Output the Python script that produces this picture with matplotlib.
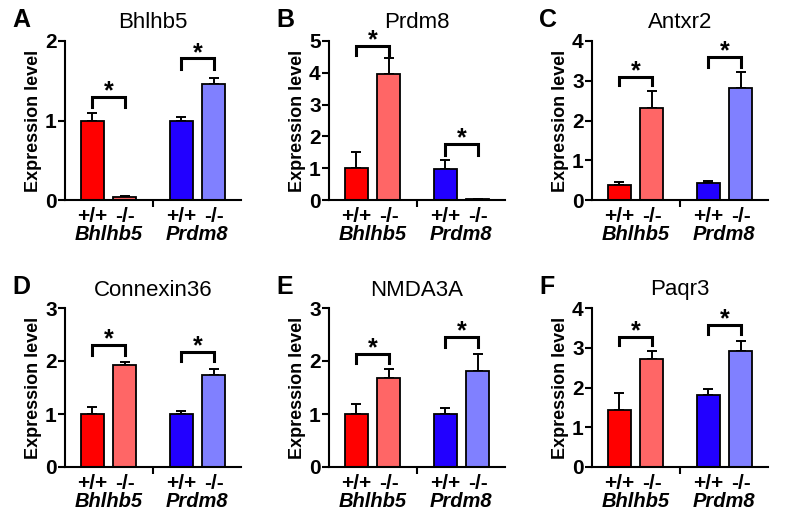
import matplotlib.pyplot as plt

plt.rcParams['font.family'] = ['Liberation Sans', 'DejaVu Sans']

# genotype / group labels
genotypes = ['+/+', '-/-', '+/+', '-/-']
groups = ['Bhlhb5', 'Prdm8']
colors = ['#ff0000', '#ff6666', '#2200ff', '#8080ff']

# panel data: letter, gene, y max, means, upper error (SEM)
letters = ['A', 'B', 'C', 'D', 'E', 'F']
genes = ['Bhlhb5', 'Prdm8', 'Antxr2', 'Connexin36', 'NMDA3A', 'Paqr3']
ymax = [2, 5, 4, 3, 3, 4]
means = [
    [1.00, 0.04, 1.00, 1.46],
    [1.00, 3.96, 0.99, 0.03],
    [0.38, 2.32, 0.43, 2.82],
    [1.00, 1.92, 1.00, 1.74],
    [1.00, 1.67, 1.00, 1.82],
    [1.43, 2.72, 1.81, 2.93],
]
errs = [
    [0.09, 0.01, 0.04, 0.08],
    [0.52, 0.52, 0.27, 0.01],
    [0.08, 0.42, 0.06, 0.41],
    [0.14, 0.07, 0.06, 0.11],
    [0.19, 0.17, 0.11, 0.32],
    [0.44, 0.20, 0.14, 0.24],
]
# significance brackets: (bracket top, leg bottom) for each group
brackets = [
    [(1.30, 1.17), (1.78, 1.65)],
    [(4.85, 4.55), (1.75, 1.43)],
    [(3.10, 2.90), (3.60, 3.34)],
    [(2.31, 2.12), (2.17, 2.00)],
    [(2.14, 1.97), (2.45, 2.26)],
    [(3.26, 3.07), (3.58, 3.35)],
]

xpos = [0, 1, 2.75, 3.75]
mid = 1.875

fig = plt.figure(figsize=(8, 5.22), dpi=100)

col_left = [65, 329, 592]
row_top = [41, 308]
ax_w = 176
ax_h = 159
W, H = 800, 522

for i in range(6):
    r, c = divmod(i, 3)
    left = col_left[c] / W
    bottom = 1 - (row_top[r] + ax_h) / H
    ax = fig.add_axes([left, bottom, ax_w / W, ax_h / H])

    ax.bar(xpos, means[i], width=0.7, color=colors, edgecolor='black',
           linewidth=1.3, zorder=2)
    ax.errorbar(xpos, means[i], yerr=[[0] * 4, errs[i]], fmt='none',
                ecolor='black', elinewidth=1.4, capsize=3.5, capthick=1.4,
                zorder=1)

    # brackets with stars
    for g, (top, leg) in enumerate(brackets[i]):
        x0, x1 = xpos[2 * g], xpos[2 * g + 1]
        ax.plot([x0, x0, x1, x1], [leg, top, top, leg], color='black',
                lw=2.2, clip_on=False, solid_joinstyle='miter')
        ax.annotate('*', xy=((x0 + x1) / 2, top), xytext=(0, -1),
                    textcoords='offset points', ha='center', va='baseline',
                    fontsize=18, fontweight='bold', annotation_clip=False)

    ax.set_xlim(-0.85, 4.6)
    ax.set_ylim(0, ymax[i])
    ax.set_yticks(range(ymax[i] + 1))
    ax.set_xticks(xpos)
    ax.set_xticklabels(genotypes, fontsize=15, fontweight='bold')
    ax.set_xticks([mid], minor=True)
    ax.tick_params(axis='x', which='major', length=0, pad=5)
    ax.tick_params(axis='x', which='minor', length=5, width=1.5)
    ax.tick_params(axis='y', length=5, width=1.5, labelsize=15, pad=1)
    for lab in ax.get_yticklabels():
        lab.set_fontweight('bold')

    for g, name in enumerate(groups):
        ax.text((xpos[2 * g] + xpos[2 * g + 1]) / 2, -0.215, name,
                transform=ax.get_xaxis_transform(), ha='center', va='center',
                fontsize=14.5, fontweight='bold', style='italic')

    for s in ['top', 'right']:
        ax.spines[s].set_visible(False)
    for s in ['left', 'bottom']:
        ax.spines[s].set_linewidth(1.5)

    ax.set_ylabel('Expression level', fontsize=13, fontweight='bold',
                  labelpad=2)
    ax.set_title(genes[i], fontsize=16, pad=9)

    fig.text((col_left[c] - 53) / W, 1 - (row_top[r] - 21) / H, letters[i],
             fontsize=18, fontweight='bold', ha='left', va='center')

fig.savefig('out.png', dpi=100)
